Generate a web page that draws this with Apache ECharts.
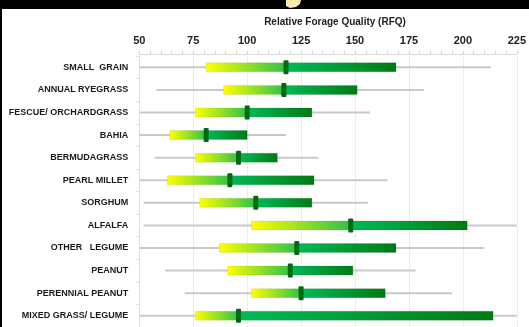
<!DOCTYPE html>
<html>
<head>
<meta charset="utf-8">
<script src="https://cdn.jsdelivr.net/npm/echarts@6/dist/echarts.min.js"></script>
<style>
html,body{margin:0;padding:0;background:#fff;}
#c{width:529px;height:327px;}
</style>
</head>
<body>
<div id="c"></div>
<script>
const categories = ['SMALL  GRAIN','ANNUAL RYEGRASS','FESCUE/ ORCHARDGRASS','BAHIA','BERMUDAGRASS','PEARL MILLET','SORGHUM','ALFALFA','OTHER   LEGUME','PEANUT','PERENNIAL PEANUT','MIXED GRASS/ LEGUME'];
const whiskerLow  = [50, 58, 50, 50, 57, 50, 52, 52, 50, 62, 71, 50];
const boxLow      = [81, 89, 76, 64, 76, 63, 78, 102, 87, 91, 102, 76];
const medianVal   = [118, 117, 100, 81, 96, 92, 104, 148, 123, 120, 125, 96];
const boxHigh     = [169, 151, 130, 100, 114, 131, 130, 202, 169, 149, 164, 214];
const whiskerHigh = [213, 182, 157, 118, 133, 165, 156, 225, 210, 178, 195, 225];
const tickValues  = [50, 75, 100, 125, 150, 175, 200, 225];

const seriesData = categories.map((c, i) => [i, whiskerLow[i], boxLow[i], medianVal[i], boxHigh[i], whiskerHigh[i]]);

const chart = echarts.init(document.getElementById('c'), null, {renderer: 'canvas'});

function renderItem(params, api) {
  const idx = api.value(0);
  const pWL = api.coord([api.value(1), idx]);
  const pBL = api.coord([api.value(2), idx]);
  const pM  = api.coord([api.value(3), idx]);
  const pBH = api.coord([api.value(4), idx]);
  const pWH = api.coord([api.value(5), idx]);
  const y = pM[1];
  const bh = 9;
  const mh = 14, mw = 5;
  return {
    type: 'group',
    children: [
      {type: 'line', shape: {x1: pWL[0], y1: y, x2: pWH[0], y2: y}, style: {stroke: '#c9c9c9', lineWidth: 2}},
      {type: 'rect', shape: {x: pBL[0], y: y - bh/2, width: pM[0] - pBL[0], height: bh},
        style: {fill: {type: 'linear', x: 0, y: 0, x2: 1, y2: 0, colorStops: [{offset: 0, color: '#ffff00'}, {offset: 1, color: '#2ec24a'}]}, stroke: 'rgba(120,140,0,0.25)', lineWidth: 0.5}},
      {type: 'rect', shape: {x: pM[0], y: y - bh/2, width: pBH[0] - pM[0], height: bh},
        style: {fill: {type: 'linear', x: 0, y: 0, x2: 1, y2: 0, colorStops: [{offset: 0, color: '#00bb58'}, {offset: 1, color: '#007a14'}]}, stroke: 'rgba(0,80,0,0.25)', lineWidth: 0.5}},
      {type: 'rect', shape: {x: pM[0] - mw/2, y: y - mh/2, width: mw, height: mh, r: 1},
        style: {fill: '#006a12'}}
    ]
  };
}

chart.setOption({
  animation: false,
  backgroundColor: '#ffffff',
  title: {
    text: 'Relative Forage Quality (RFQ)',
    left: 330, top: 12, textAlign: 'center',
    textStyle: {fontFamily: 'Liberation Sans', fontSize: 10, fontWeight: 'bold', color: '#222'}
  },
  grid: {left: 139.3, right: 9.5, top: 56, height: 273, containLabel: false},
  xAxis: {
    type: 'value', position: 'top', min: 50, max: 225, interval: 25, offset: 2,
    axisLabel: {fontFamily: 'Liberation Sans', fontSize: 11, fontWeight: 'bold', color: '#222', margin: 8,
      formatter: v => tickValues.includes(v) ? String(v) : ''},
    axisLine: {show: true, lineStyle: {color: '#dcdcdc', width: 1}},
    axisTick: {show: true, length: 3, lineStyle: {color: '#cfcfcf'}},
    minorTick: {show: true, splitNumber: 5, length: 3, lineStyle: {color: '#d4d4d4'}},
    splitLine: {show: true, lineStyle: {color: '#ececec', width: 1}}
  },
  yAxis: {
    type: 'category', data: categories, inverse: true,
    axisLabel: {fontFamily: 'Liberation Sans', fontSize: 9, fontWeight: 'bold', color: '#1a1a1a', margin: 11},
    axisLine: {show: true, lineStyle: {color: '#e0e0e0'}},
    axisTick: {show: true, length: 4, lineStyle: {color: '#e0e0e0'}},
    splitLine: {show: false}
  },
  series: [{
    type: 'custom',
    renderItem: renderItem,
    encode: {x: [1, 2, 3, 4, 5], y: 0},
    data: seriesData,
    clip: false
  }],
  graphic: [
    {type: 'rect', left: 0, top: 0, shape: {width: 529, height: 9}, style: {fill: '#000'}, z: 100},
    {type: 'rect', left: 0, top: 0, shape: {width: 2, height: 327}, style: {fill: '#000'}, z: 100},
    {type: 'polygon', shape: {points: [[286, 0], [301, 0], [300, 4], [296, 7], [290, 8], [286, 6]]}, style: {fill: '#f3ecae'}, z: 101}
  ]
});
</script>
</body>
</html>
